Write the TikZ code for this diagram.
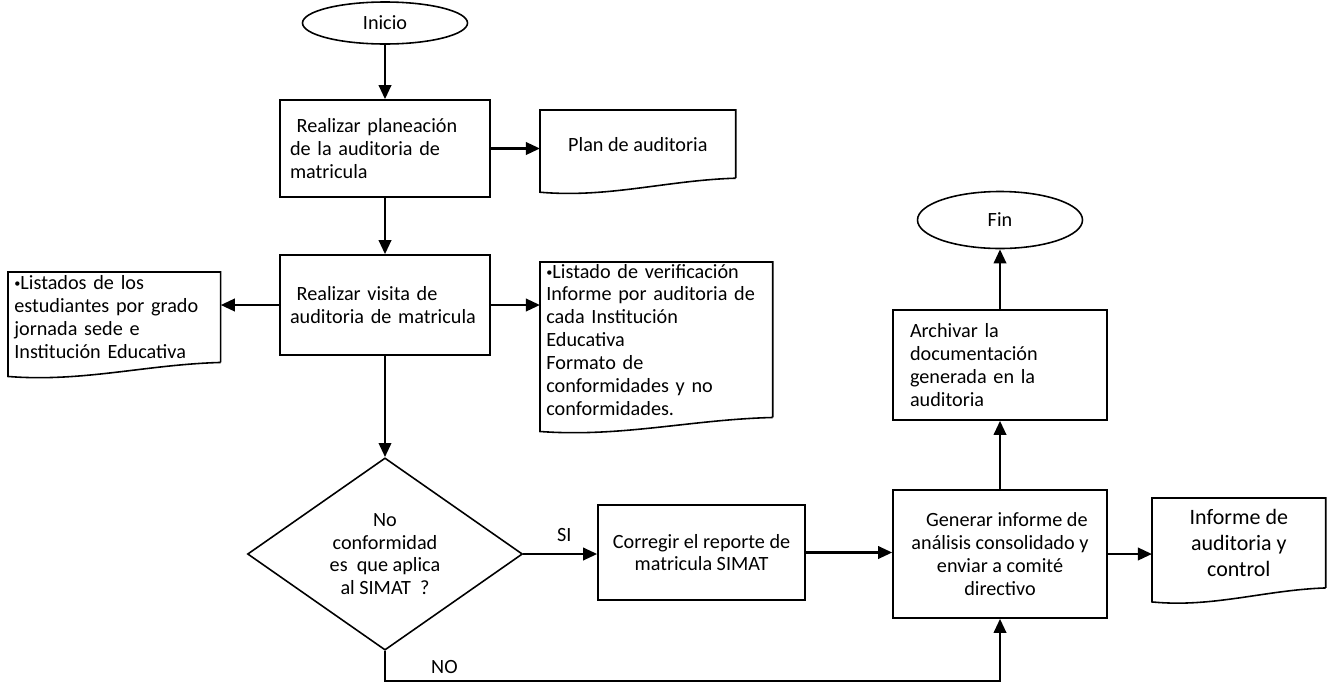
\documentclass[tikz,border=0pt]{standalone}
\usepackage{fontspec}
\setmainfont{Carlito}
\hyphenpenalty=10000
\usetikzlibrary{shapes.geometric,arrows.meta,calc,positioning}
\newcommand{\docframe}[1]{%
  \draw[docline] (#1.south east) -- (#1.north east) -- (#1.north west)
    -- ($(#1.south west)+(0,-0.28)$)
    .. controls ($(#1.south west)!0.35!(#1.south east)+(0,-0.4)$)
    and ($(#1.south west)!0.65!(#1.south east)+(0,-0.04)$) .. (#1.south east);}
\newcommand{\smallbullet}{{\fontsize{7}{7}\selectfont\raisebox{0.35ex}{•}}}
\begin{document}
\begin{tikzpicture}[
    font=\fontsize{11.5}{13}\selectfont,
    term/.style={ellipse,draw,line width=0.9pt,minimum width=3.3cm,minimum height=0.84cm,inner sep=0pt},
    proc/.style={rectangle,draw,line width=0.9pt,minimum width=4.2cm,inner sep=0pt},
    doc/.style={rectangle,anchor=north west,inner xsep=0.12cm,inner ysep=2pt,align=left},
    docline/.style={line width=0.9pt},
    decision/.style={diamond,draw,line width=0.9pt,minimum width=5.5cm,minimum height=3.76cm,inner sep=0pt,align=center},
    flow/.style={line width=1.5pt,-{Triangle[length=8pt,width=7pt]}}
  ]
  \useasboundingbox (0,0) rectangle (26.54,-13.62);
  \node[term] (inicio) at (7.7,-0.46) {Inicio};
  \node[proc,minimum height=1.94cm,text width=3.8cm,align=left] (planea) at (7.7,-2.97)
    {\ Realizar planeación\\de la auditoria de\\matricula};
  \node[doc,minimum width=3.9cm,minimum height=1.35cm,align=center] (plandoc) at (10.8,-2.2)
    {Plan de auditoria};
  \node[proc,minimum height=2.0cm,text width=3.8cm,align=left] (visita) at (7.7,-6.1)
    {\ Realizar visita de\\auditoria de matricula};
  \node[doc,text width=4.0cm] (listados) at (0.16,-5.44)
    {\smallbullet Listados de los\\estudiantes por grado\\jornada sede e\\Institución Educativa};
  \node[doc,text width=4.4cm,inner ysep=1pt] (verif) at (10.8,-5.24)
    {\smallbullet Listado de verificación\\Informe por auditoria de\\cada Institución\\Educativa\\Formato de\\conformidades y no\\conformidades.};
  \node[decision] (decide) at (7.7,-11.08)
    {No\\conformidad\\es\ \ que aplica\\al SIMAT\ \ ?};
  \node[proc,minimum width=4.14cm,minimum height=1.9cm,align=center] (corregir) at (14.03,-11.05)
    {Corregir el reporte de\\matricula SIMAT};
  \node[proc,minimum width=4.28cm,minimum height=2.56cm,align=center] (generar) at (20,-11.08)
    {\ \ \ Generar informe de\\análisis consolidado y\\enviar a comité\\directivo};
  \node[doc,minimum width=3.46cm,inner ysep=6pt,align=center,font=\fontsize{12.5}{15}\selectfont] (informe) at (23.04,-9.96)
    {Informe de\\auditoria y\\control};
  \node[proc,minimum width=4.28cm,minimum height=2.2cm,text width=3.6cm,align=left] (archivar) at (20,-7.3)
    {Archivar la\\documentación\\generada en la\\auditoria};
  \node[term,minimum width=3.3cm,minimum height=1.14cm] (fin) at (20,-4.4) {Fin};
  \docframe{plandoc}
  \docframe{listados}
  \docframe{verif}
  \docframe{informe}
  \coordinate (nocorner) at ($(decide.south)+(0,-0.6)$);
  \node (si) [above right=0.12cm and 0.55cm of decide.east] {SI};
  \node (no) [above right=0.02cm and 0.8cm of nocorner] {NO};
  \begin{scope}[flow]
    \draw (inicio.south) -- (inicio.south |- planea.north);
    \draw (planea.east) -- (planea.east -| plandoc.west);
    \draw (planea.south) -- (visita.north);
    \draw (visita.west) -- (visita.west -| listados.east);
    \draw (visita.east) -- (visita.east -| verif.west);
    \draw (visita.south) -- (decide.north);
    \draw (decide.east) -- (decide.east -| corregir.west);
    \draw (corregir.east) -- (corregir.east -| generar.west);
    \draw (generar.east) -- (generar.east -| informe.west);
    \draw (decide.south) -- (nocorner) -| (generar.south);
    \draw (generar.north) -- (archivar.south);
    \draw (archivar.north) -- (fin.south);
  \end{scope}
\end{tikzpicture}
\end{document}
